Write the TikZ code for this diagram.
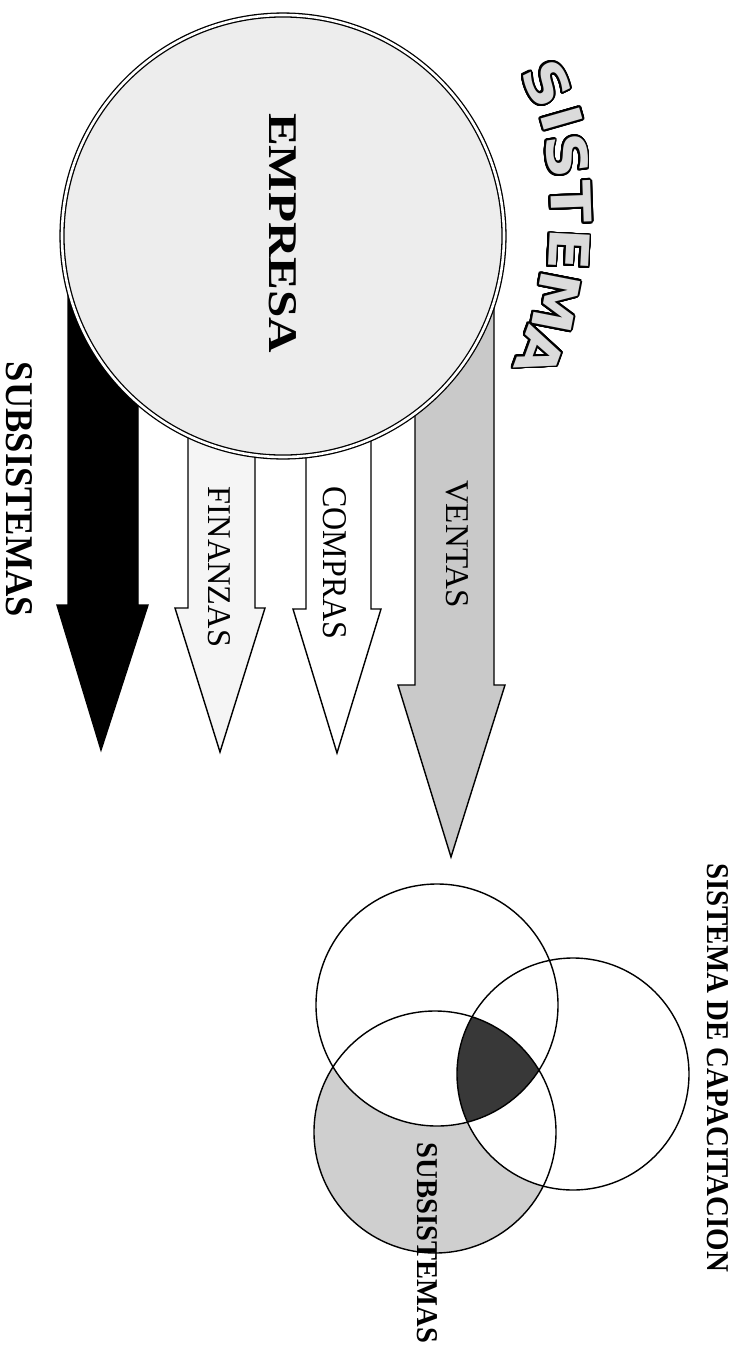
\documentclass[tikz,border=0pt]{standalone}
\usepackage{fontspec}
\setmainfont{Liberation Serif}
\newfontfamily\heavyfont{DejaVu Sans}
\usepackage{graphicx}
\usepackage{contour}
\contourlength{1.9pt}
\contournumber{32}
\newcommand\fitlabel[3]{\resizebox{#1pt}{#2pt}{#3}}
\newcommand\sisletter[1]{\textcolor{gray!28}{\contour{black}{\scalebox{1.12}[1]{\heavyfont\bfseries\fontsize{55}{55}\selectfont #1}}}}
\tikzset{
  lbl/.style={inner sep=0pt, outer sep=0pt, rotate=-90},
  letter/.style={inner sep=0pt, outer sep=0pt},
  arrowshape/.style={draw=black, line width=1.4pt, line join=miter},
  vennline/.style={draw=black, line width=1.4pt},
  bigcirc/.style={circle, draw=black, line width=1.3pt, double=white, double distance=2.6pt,
     fill=gray!14, minimum size=442pt, inner sep=0pt}
}
\begin{document}
\begin{tikzpicture}[x=1pt,y=-1pt]
\useasboundingbox (0,0) rectangle (736,1350);
\fill[white] (0,0) rectangle (736,1350);

% ---------- arrows ----------
\coordinate (tipS) at (101,750);
\coordinate (tipF) at (220,752);
\coordinate (tipC) at (337,753);
\coordinate (tipV) at (451,857);
\path[arrowshape, fill=black] (68,236) -- (68,605) -- (57,605) -- (tipS) -- (148,605) -- (138,605) -- (138,236) -- cycle;
\path[arrowshape, fill=gray!8] (188,236) -- (188,608) -- (175,608) -- (tipF) -- (265,608) -- (255,608) -- (255,236) -- cycle;
\path[arrowshape, fill=white] (306,236) -- (306,609) -- (293,609) -- (tipC) -- (381,609) -- (371,609) -- (371,236) -- cycle;
\path[arrowshape, fill=gray!42] (415,236) -- (415,685) -- (398,685) -- (tipV) -- (505,685) -- (494,685) -- (494,236) -- cycle;

% ---------- big circle ----------
\node[bigcirc] (empresa) at (283,236) {};
\node[lbl] (empresaT) at (283,233) {\fitlabel{240}{27}{\bfseries EMPRESA}};

% ---------- arrow labels ----------
\node[lbl] (finT) at (219,567) {\fitlabel{160}{22}{FINANZAS}};
\node[lbl] (comT) at (335,563) {\fitlabel{153}{23}{COMPRAS}};
\node[lbl] (venT) at (457,544) {\fitlabel{128}{22}{VENTAS}};
\node[lbl] (subT) at (19.5,489.5) {\fitlabel{255}{26}{\bfseries SUBSISTEMAS}};

% ---------- SISTEMA (outlined letters on an arc) ----------
\node[letter, rotate=-64] (s1) at (546,84) {\sisletter{S}};
\node[letter, rotate=-74] (s2) at (561,119) {\sisletter{I}};
\node[letter, rotate=-82] (s3) at (566,156) {\sisletter{S}};
\node[letter, rotate=-88] (s4) at (570,202) {\sisletter{T}};
\node[letter, rotate=-93] (s5) at (568,250) {\sisletter{E}};
\node[letter, rotate=-101] (s6) at (555,302) {\sisletter{M}};
\node[letter, rotate=-110] (s7) at (539,352) {\sisletter{A}};

% ---------- Venn diagram ----------
\coordinate (cA) at (437,1005);
\coordinate (cB) at (435,1132);
\coordinate (cC) at (573,1074);
\fill[gray!38] (cB) circle[radius=121];
\begin{scope}
  \clip (cB) circle[radius=121];
  \fill[white] (cA) circle[radius=121];
  \fill[white] (cC) circle[radius=116];
\end{scope}
\begin{scope}
  \clip (cA) circle[radius=121];
  \clip (cC) circle[radius=116];
  \fill[black!78] (cB) circle[radius=121];
\end{scope}
\draw[vennline] (cA) circle[radius=121];
\draw[vennline] (cB) circle[radius=121];
\draw[vennline] (cC) circle[radius=116];

\node[lbl] (vennSub) at (427,1243) {\fitlabel{200}{20}{\bfseries SUBSISTEMAS}};
\node[lbl] (capT) at (717.5,1067.5) {\fitlabel{409}{21}{\bfseries SISTEMA DE CAPACITACION}};
\end{tikzpicture}
\end{document}
